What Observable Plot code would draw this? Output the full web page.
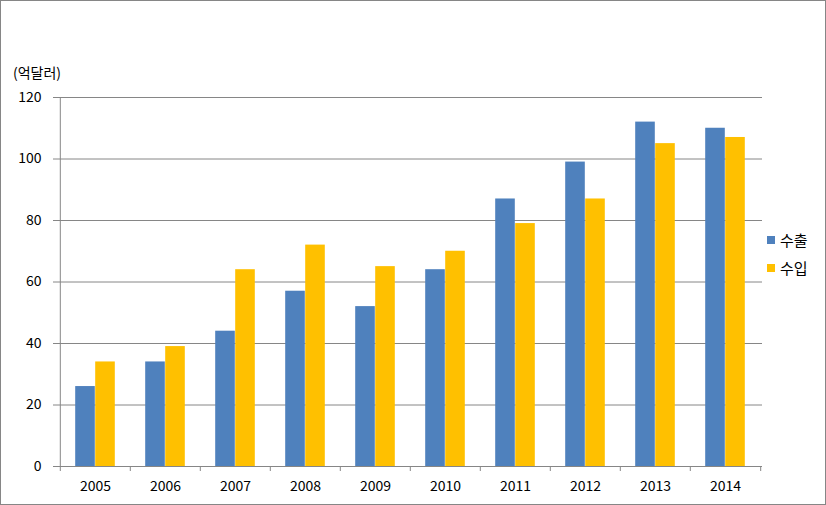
<!DOCTYPE html>
<html>
<head>
<meta charset="utf-8">
<script src="https://cdn.jsdelivr.net/npm/d3@7"></script>
<script src="https://cdn.jsdelivr.net/npm/@observablehq/plot@0.6"></script>
<style>
  body { margin: 0; background: #fff; font-family: "Noto Sans CJK KR", "Noto Sans", sans-serif; }
  #wrap { position: relative; width: 826px; height: 505px; overflow: hidden; }
  #border { position: absolute; left: 0; top: 0; width: 826px; height: 505px; box-sizing: border-box; border: 1px solid #868686; pointer-events: none; }
  #unit { position: absolute; left: 13px; top: 62px; font-size: 14px; color: #000; }
  .leg { position: absolute; left: 767px; font-size: 15px; color: #000; display: flex; align-items: center; }
  .leg span.sw { display: inline-block; width: 8px; height: 8px; margin-right: 5px; }
  svg { position: absolute; left: 0; top: 0; }
</style>
</head>
<body>
<div id="wrap">
  <div id="chart"></div>
  <div id="unit">(억달러)</div>
  <div class="leg" style="top:229px"><span class="sw" style="background:#4F81BD"></span>수출</div>
  <div class="leg" style="top:257px"><span class="sw" style="background:#FFC000"></span>수입</div>
  <div id="border"></div>
</div>
<script>
const years = ["2005","2006","2007","2008","2009","2010","2011","2012","2013","2014"];
const exportsV = [26, 34, 44, 57, 52, 64, 87, 99, 112, 110];
const importsV = [34, 39, 64, 72, 65, 70, 79, 87, 105, 107];
const yTicks = [0, 20, 40, 60, 80, 100, 120];
const seriesNames = ["수출", "수입"];
const seriesColors = ["#4F81BD", "#FFC000"];

const exportData = years.map((y, i) => ({year: y, value: exportsV[i], series: seriesNames[0]}));
const importData = years.map((y, i) => ({year: y, value: importsV[i], series: seriesNames[1]}));

const W = 826, H = 505;
const mL = 58, mR = 64, mT = 97, mB = 39;
const step = (W - mL - mR) / years.length;
const half = step / 2;
const barW = 20;
const gray = "#868686";

const chart = Plot.plot({
  width: W,
  height: H,
  marginLeft: mL,
  marginRight: mR,
  marginTop: mT,
  marginBottom: mB,
  style: {fontFamily: '"Noto Sans CJK KR", "Noto Sans", sans-serif', fontSize: "14px", color: "#000", background: "transparent", overflow: "visible"},
  x: {type: "band", domain: years, padding: 0},
  y: {domain: [0, 120]},
  marks: [
    Plot.ruleY(yTicks, {stroke: gray, strokeWidth: 1}),
    Plot.barY(exportData, {x: "year", y: "value", fill: seriesColors[0], insetLeft: half - barW, insetRight: half}),
    Plot.barY(importData, {x: "year", y: "value", fill: seriesColors[1], insetLeft: half, insetRight: half - barW}),
    // y axis line
    Plot.ruleX([years[0]], {x: d => d, y1: 0, y2: 120, dx: -half, stroke: gray}),
    // x category boundary ticks
    Plot.ruleX(years, {x: d => d, y1: 0, y2: 0, dx: -half, insetBottom: -5, stroke: gray}),
    Plot.ruleX([years[years.length - 1]], {x: d => d, y1: 0, y2: 0, dx: half, insetBottom: -5, stroke: gray}),
    Plot.axisY({ticks: yTicks, tickSize: 5, tickPadding: 12, tickFormat: d => String(d), stroke: gray, label: null, fontSize: 14}),
    Plot.axisX({tickSize: 0, tickPadding: 15, label: null, fontSize: 14})
  ]
});
document.getElementById("chart").appendChild(chart);
</script>
</body>
</html>
